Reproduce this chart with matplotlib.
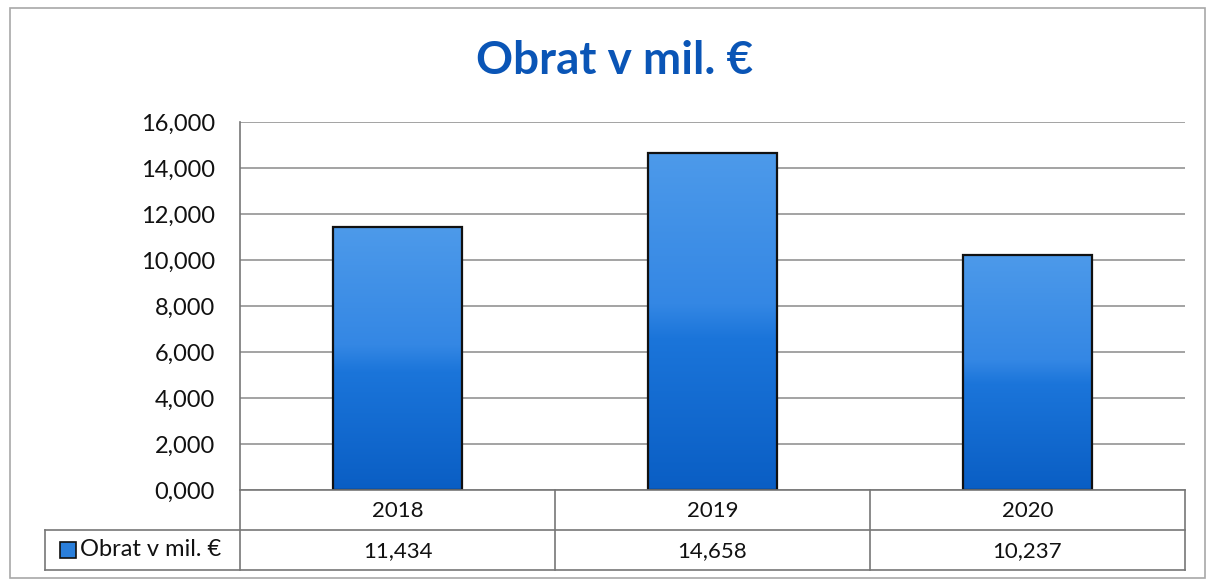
import matplotlib
matplotlib.use("Agg")
import matplotlib.pyplot as plt
import numpy as np
from matplotlib.colors import LinearSegmentedColormap
from matplotlib.patches import Rectangle

categories = ["2018", "2019", "2020"]
values = [11.434, 14.658, 10.237]
value_labels = ["11,434", "14,658", "10,237"]
yticks = [0, 2, 4, 6, 8, 10, 12, 14, 16]
ytick_labels = ["0,000", "2,000", "4,000", "6,000", "8,000", "10,000", "12,000", "14,000", "16,000"]
series_name = "Obrat v mil. €"
title = "Obrat v mil. €"

plt.rcParams['font.family'] = ['Lato', 'DejaVu Sans']

W, H = 1211, 582
fig = plt.figure(figsize=(W / 100, H / 100), dpi=100)

def fx(px):
    return px / W

def fy(py):
    return 1 - py / H

# outer border
fig.patches.append(Rectangle((fx(10), fy(578)), fx(1205) - fx(10), fy(8) - fy(578),
                             transform=fig.transFigure, fill=False, edgecolor="#a8a8a8", lw=1.2))

left, right, top, bottom = 240, 1185, 122, 490
ax = fig.add_axes([fx(left), fy(bottom), fx(right) - fx(left), fy(top) - fy(bottom)])
ax.set_xlim(-0.5, 2.5)
ax.set_ylim(0, 16)
ax.set_yticks(yticks)
ax.set_yticklabels(ytick_labels, fontsize=17, color="#111111")
ax.tick_params(axis='y', length=0, pad=18)
ax.set_xticks([])
for s in ["top", "right", "bottom"]:
    ax.spines[s].set_visible(False)
ax.spines["left"].set_color("#777777")
ax.spines["left"].set_linewidth(1.2)
ax.grid(axis='y', color="#8a8a8a", lw=1.1)
ax.set_axisbelow(True)

cmap = LinearSegmentedColormap.from_list(
    "bar", [(0, "#0a5ec4"), (0.45, "#1b75da"), (0.55, "#3487e4"), (1, "#4d9aea")])
grad = np.linspace(0, 1, 256).reshape(-1, 1)
bw = 0.41
bars = ax.bar(range(len(categories)), values, width=bw, color="none",
              edgecolor="#111111", lw=1.6, zorder=3)
for b, v in zip(bars, values):
    x0 = b.get_x()
    im = ax.imshow(grad, cmap=cmap, origin="lower", aspect="auto",
                   extent=[x0, x0 + bw, 0, v], zorder=2.5)
    im.set_clip_path(b)
ax.set_xlim(-0.5, 2.5)
ax.set_ylim(0, 16)

fig.text(fx(615), fy(61), title, ha="center", va="center", fontsize=33,
         fontweight="bold", color="#0a55b6")

# data table
line_kw = dict(color="#777777", lw=1.2, transform=fig.transFigure)
r0, r1, r2 = 490, 530, 570
tl = 45
fig.add_artist(plt.Line2D([fx(left), fx(right)], [fy(r0), fy(r0)], **line_kw))
fig.add_artist(plt.Line2D([fx(tl), fx(right)], [fy(r1), fy(r1)], **line_kw))
fig.add_artist(plt.Line2D([fx(tl), fx(right)], [fy(r2), fy(r2)], **line_kw))
fig.add_artist(plt.Line2D([fx(tl), fx(tl)], [fy(r1), fy(r2)], **line_kw))
fig.add_artist(plt.Line2D([fx(left), fx(left)], [fy(r0), fy(r2)], **line_kw))
cw = (right - left) / len(categories)
for i in range(1, len(categories) + 1):
    xx = left + i * cw
    fig.add_artist(plt.Line2D([fx(xx), fx(xx)], [fy(r0), fy(r2)], **line_kw))
for i, (c, vl) in enumerate(zip(categories, value_labels)):
    xc = left + (i + 0.5) * cw
    fig.text(fx(xc), fy((r0 + r1) / 2 + 1), c, ha="center", va="center", fontsize=16, color="#111111")
    fig.text(fx(xc), fy((r1 + r2) / 2 + 1), vl, ha="center", va="center", fontsize=16, color="#111111")

# legend key
fig.patches.append(Rectangle((fx(60), fy(558)), fx(16), fy(542) - fy(558),
                             transform=fig.transFigure, facecolor="#2a7fdc",
                             edgecolor="#111111", lw=1.2))
fig.text(fx(80), fy(550), series_name, ha="left", va="center", fontsize=17, color="#111111")

fig.savefig("out.png", dpi=100)
